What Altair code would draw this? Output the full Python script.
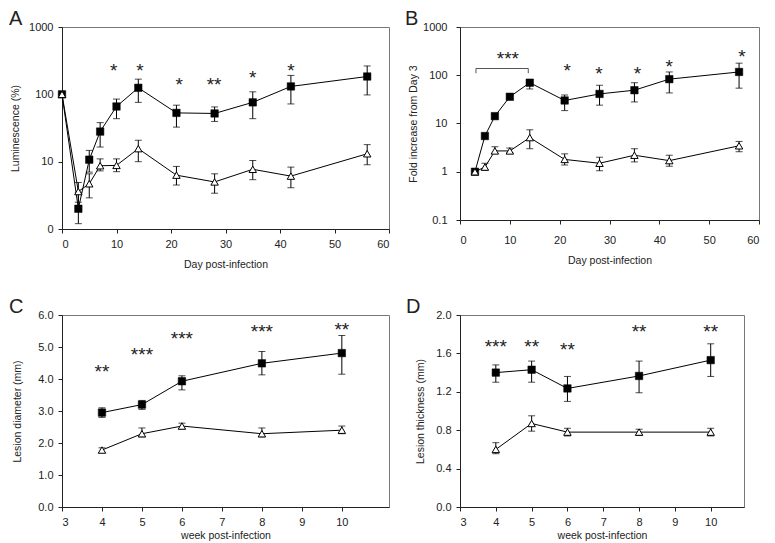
import altair as alt
import pandas as pd

FONT = "Liberation Sans"

# ---------------- Panel A : Luminescence (%) ----------------
A_days = [0, 3, 5, 7, 10, 14, 21, 28, 35, 42, 56]
A_sq = [100, 2.0, 10.7, 28, 66, 125, 53, 52, 76, 131, 184]
A_sq_hi = [None, 3.5, 14.7, 38, 85, 168, 69, 65, 109, 191, 264]
A_sq_lo = [None, 1.2, 7.0, 16.5, 43.5, 76, 32.6, 39.6, 43.5, 72, 98]
A_tri = [100, 3.6, 4.7, 8.7, 8.8, 15.6, 6.3, 5.0, 7.7, 6.1, 13.1]
A_tri_hi = [None, 4.9, 6.6, 11, 11, 20.8, 8.5, 6.6, 10.4, 8.3, 17.9]
A_tri_lo = [None, 2.5, 2.9, 7.3, 7.1, 10, 4.5, 3.4, 5.4, 4.1, 9.0]
A_star_x = [9.5, 14.3, 21.5, 27.9, 35, 42]
A_star_y = [263, 263, 161, 161, 209, 263]
A_star_txt = ["*", "*", "*", "**", "*", "*"]

# ---------------- Panel B : Fold increase from Day 3 ----------------
B_days = [3, 5, 7, 10, 14, 21, 28, 35, 42, 56]
B_sq = [1, 5.5, 14.2, 35.8, 70, 30, 41, 49, 83, 117]
B_sq_hi = [None, None, None, None, 82, 39, 62, 70, 117, 178]
B_sq_lo = [None, None, None, None, 52, 18.5, 24, 28, 43, 54]
B_tri = [1, 1.25, 2.7, 2.7, 5.1, 1.8, 1.5, 2.2, 1.7, 3.45]
B_tri_hi = [None, 1.5, 3.3, 3.1, 7.4, 2.35, 2.0, 3.0, 2.2, 4.25]
B_tri_lo = [None, 1.07, 2.4, 2.5, 3.0, 1.38, 1.05, 1.6, 1.3, 2.6]
B_star_x = [9.6, 21.5, 27.9, 35.6, 42, 56.6]
B_star_y = [275, 157, 134, 138, 185, 300]
B_star_txt = ["***", "*", "*", "*", "*", "*"]
B_bracket_x = [3.2, 3.2, 13.7, 13.7]
B_bracket_y = [110, 138, 138, 110]

# ---------------- Panel C : Lesion diameter (mm) ----------------
C_weeks = [4, 5, 6, 8, 10]
C_sq = [2.95, 3.2, 3.93, 4.49, 4.81]
C_sq_hi = [3.1, 3.33, 4.1, 4.86, 5.36]
C_sq_lo = [2.8, 3.05, 3.66, 4.13, 4.15]
C_tri = [1.78, 2.29, 2.53, 2.29, 2.4]
C_tri_hi = [1.85, 2.47, 2.62, 2.47, 2.53]
C_tri_lo = [1.7, 2.19, 2.44, 2.19, 2.29]
C_star_x = [4, 5, 6, 8, 10]
C_star_y = [4.36, 4.91, 5.42, 5.63, 5.70]
C_star_txt = ["**", "***", "***", "***", "**"]

# ---------------- Panel D : Lesion thickness (mm) ----------------
D_weeks = [4, 5, 6, 8, 10]
D_sq = [1.40, 1.43, 1.235, 1.365, 1.53]
D_sq_hi = [1.48, 1.52, 1.36, 1.52, 1.70]
D_sq_lo = [1.30, 1.30, 1.10, 1.19, 1.36]
D_tri = [0.60, 0.87, 0.78, 0.78, 0.78]
D_tri_hi = [0.67, 0.95, 0.82, 0.81, 0.82]
D_tri_lo = [0.555, 0.79, 0.74, 0.745, 0.74]
D_star_x = [4, 5, 6, 8, 10]
D_star_y = [1.72, 1.72, 1.69, 1.87, 1.87]
D_star_txt = ["***", "**", "**", "**", "**"]


def axis(title, values, fmt, **kw):
    base = dict(title=title, values=values, format=fmt, grid=False,
                tickSize=4, tickColor="#222", domainColor="#222",
                labelFont=FONT, titleFont=FONT, labelFontSize=11,
                titleFontSize=10.5, titleFontWeight="normal",
                labelColor="#222", titleColor="#222", labelPadding=5)
    base.update(kw)
    return alt.Axis(**base)


def panel(x, sq, sq_hi, sq_lo, tri, tri_hi, tri_lo, sx, sy, st,
          xscale, yscale, xaxis, yaxis, letter, letter_dx, w, h,
          bracket=None):
    X = alt.X("x:Q", scale=xscale, axis=xaxis)

    def Y(field):
        return alt.Y(field, scale=yscale, axis=yaxis)

    sq_df = pd.DataFrame({"x": x, "y": sq})
    tri_df = pd.DataFrame({"x": x, "y": tri})
    err = pd.concat([
        pd.DataFrame({"x": x, "hi": sq_hi, "lo": sq_lo}),
        pd.DataFrame({"x": x, "hi": tri_hi, "lo": tri_lo}),
    ]).dropna()
    caps = pd.concat([
        err[["x", "hi"]].rename(columns={"hi": "y"}),
        err[["x", "lo"]].rename(columns={"lo": "y"}),
    ])
    stars = pd.DataFrame({"x": sx, "y": sy, "t": st})

    layers = []
    layers.append(alt.Chart(sq_df).mark_line(color="black", strokeWidth=1)
                  .encode(x=X, y=Y("y:Q")))
    layers.append(alt.Chart(tri_df).mark_line(color="black", strokeWidth=1)
                  .encode(x=X, y=Y("y:Q")))
    layers.append(alt.Chart(err).mark_rule(color="black", strokeWidth=1)
                  .encode(x=X, y=Y("lo:Q"), y2="hi:Q"))
    layers.append(alt.Chart(caps).mark_tick(color="black", orient="horizontal",
                                             size=7, thickness=1)
                  .encode(x=X, y=Y("y:Q")))
    if bracket is not None:
        bdf = pd.DataFrame({"x": bracket[0], "y": bracket[1],
                            "o": list(range(len(bracket[0])))})
        layers.append(alt.Chart(bdf).mark_line(color="#555", strokeWidth=1)
                      .encode(x=X, y=Y("y:Q"), order="o:Q"))
    layers.append(alt.Chart(sq_df).mark_point(shape="square", filled=True,
                                               fill="black", stroke="black",
                                               strokeWidth=0.5,
                                               size=56, opacity=1)
                  .encode(x=X, y=Y("y:Q")))
    layers.append(alt.Chart(tri_df).mark_point(shape="triangle-up", filled=True,
                                                fill="white", stroke="black",
                                                strokeWidth=1, size=55, opacity=1)
                  .encode(x=X, y=Y("y:Q")))
    layers.append(alt.Chart(stars).mark_text(font=FONT, fontSize=19,
                                              baseline="alphabetic", dy=11,
                                              color="#222")
                  .encode(x=X, y=Y("y:Q"), text="t:N"))
    return alt.layer(*layers).properties(
        width=w, height=h,
        title=alt.TitleParams(letter, anchor="start", frame="group",
                              dx=letter_dx, fontSize=20, fontWeight="normal",
                              font=FONT, color="#222", offset=-8))


day_axis_vals = [0, 10, 20, 30, 40, 50, 60]
week_axis_vals = [3, 4, 5, 6, 7, 8, 9, 10]

pA = panel(A_days, A_sq, A_sq_hi, A_sq_lo, A_tri, A_tri_hi, A_tri_lo,
           A_star_x, A_star_y, A_star_txt,
           alt.Scale(domain=[0, 60], nice=False, zero=False),
           alt.Scale(type="log", domain=[1, 1000], nice=False),
           axis("Day post-infection", day_axis_vals, "d", titlePadding=10),
           axis("Luminescence (%)", [1, 10, 100, 1000], "~g",
                labelExpr="datum.value < 2 ? '0' : datum.label", titlePadding=8),
           "A", -53, 327, 202)

pB = panel(B_days, B_sq, B_sq_hi, B_sq_lo, B_tri, B_tri_hi, B_tri_lo,
           B_star_x, B_star_y, B_star_txt,
           alt.Scale(domain=[0, 60], nice=False, zero=False),
           alt.Scale(type="log", domain=[0.1, 1000], nice=False),
           axis("Day post-infection", day_axis_vals, "d", labelPadding=10,
                titlePadding=10),
           axis("Fold increase from Day 3", [0.1, 1, 10, 100, 1000], "~g",
                labelPadding=9, titlePadding=4),
           "B", -55, 299, 193,
           bracket=(B_bracket_x, B_bracket_y))

pC = panel(C_weeks, C_sq, C_sq_hi, C_sq_lo, C_tri, C_tri_hi, C_tri_lo,
           C_star_x, C_star_y, C_star_txt,
           alt.Scale(domain=[3, 11.18], nice=False, zero=False),
           alt.Scale(domain=[0, 6], nice=False),
           axis("week post-infection", week_axis_vals, "d", titlePadding=3),
           axis("Lesion diameter (mm)", [0, 1, 2, 3, 4, 5, 6], ".1f",
                titlePadding=15),
           "C", -53, 327, 192)

pD = panel(D_weeks, D_sq, D_sq_hi, D_sq_lo, D_tri, D_tri_hi, D_tri_lo,
           D_star_x, D_star_y, D_star_txt,
           alt.Scale(domain=[3, 10.93], nice=False, zero=False),
           alt.Scale(domain=[0, 2], nice=False),
           axis("week post-infection", week_axis_vals, "d", titlePadding=3),
           axis("Lesion thickness (mm)", [0, 0.4, 0.8, 1.2, 1.6, 2.0], ".1f",
                titlePadding=10),
           "D", -54, 284, 192)

chart = alt.concat(pA, pB, pC, pD, columns=2,
                   spacing={"row": 26, "column": 14}).properties(
    padding=0, background="white"
).configure_view(stroke="#777", strokeWidth=1)

chart.save("out.html", embed_options={"renderer": "svg", "actions": False})
